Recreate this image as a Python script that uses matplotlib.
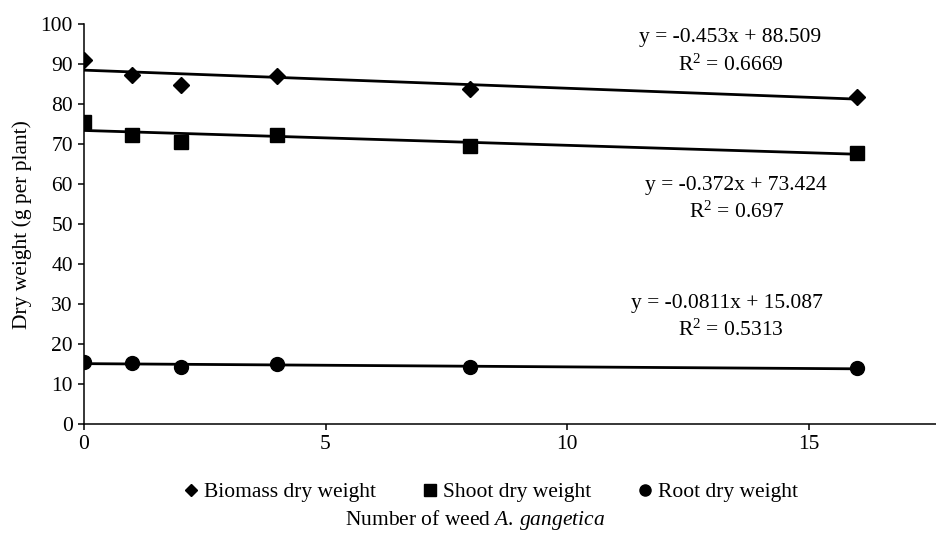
import matplotlib.pyplot as plt
import numpy as np

plt.rcParams['font.family'] = ['Liberation Serif', 'DejaVu Serif']
plt.rcParams['mathtext.fontset'] = 'custom'
plt.rcParams['mathtext.rm'] = 'Liberation Serif'
plt.rcParams['mathtext.it'] = 'Liberation Serif:italic'

weeds = [0, 1, 2, 4, 8, 16]
biomass = [91.0, 87.4, 84.8, 87.1, 83.7, 81.8]
shoot = [75.6, 72.3, 70.6, 72.3, 69.5, 67.8]
root = [15.6, 15.2, 14.3, 15.0, 14.3, 14.1]

series_names = ["Biomass dry weight", "Shoot dry weight", "Root dry weight"]
slopes = [-0.453, -0.372, -0.0811]
intercepts = [88.509, 73.424, 15.087]
r2_values = ["0.6669", "0.697", "0.5313"]
eq_labels = ["y = -0.453x + 88.509", "y = -0.372x + 73.424", "y = -0.0811x + 15.087"]

fig = plt.figure(figsize=(9.37, 5.38), dpi=100)
ax = fig.add_axes([0.0896, 0.212, 0.91, 0.743])

markers = ['D', 's', 'o']
sizes = [8, 10.5, 10]
for vals, name, m, ms in zip([biomass, shoot, root], series_names, markers, sizes):
    ax.plot(weeds, vals, linestyle='none', marker=m, markersize=ms, color='black', label=name)

xfit = np.array([0, 16])
for a, b in zip(slopes, intercepts):
    ax.plot(xfit, a * xfit + b, color='black', linewidth=2.0)

fs = 15.5
# equation labels (placed like Excel trendline labels)
ax.text(13.38, 96.75, eq_labels[0], ha='center', va='center', fontsize=fs)
ax.text(13.4, 89.75, "R$^2$ = " + r2_values[0], ha='center', va='center', fontsize=fs)
ax.text(13.5, 59.75, eq_labels[1], ha='center', va='center', fontsize=fs)
ax.text(13.5, 53.0, "R$^2$ = " + r2_values[1], ha='center', va='center', fontsize=fs)
ax.text(13.3, 30.25, eq_labels[2], ha='center', va='center', fontsize=fs)
ax.text(13.4, 23.5, "R$^2$ = " + r2_values[2], ha='center', va='center', fontsize=fs)

ax.set_xlim(0, 17.65)
ax.set_ylim(0, 100)
ax.set_xticks([0, 5, 10, 15])
ax.set_yticks(np.arange(0, 101, 10))
ax.spines['top'].set_visible(False)
ax.spines['right'].set_visible(False)
for s in ['left', 'bottom']:
    ax.spines[s].set_linewidth(1.1)
ax.tick_params(direction='out', length=4, width=1.1, labelsize=fs, pad=4)
ax.set_ylabel("Dry weight (g per plant)", fontsize=fs, labelpad=6)

fig.legend(loc='center', bbox_to_anchor=(0.523, 0.085), ncol=3, frameon=False,
           fontsize=fs, handlelength=0.8, handletextpad=0.2, columnspacing=2.1,
           markerscale=0.8)
fig.text(0.507, 0.033, r"Number of weed $\mathit{A.\,gangetica}$", ha='center', va='center', fontsize=fs)

fig.savefig("out.png", dpi=100)
